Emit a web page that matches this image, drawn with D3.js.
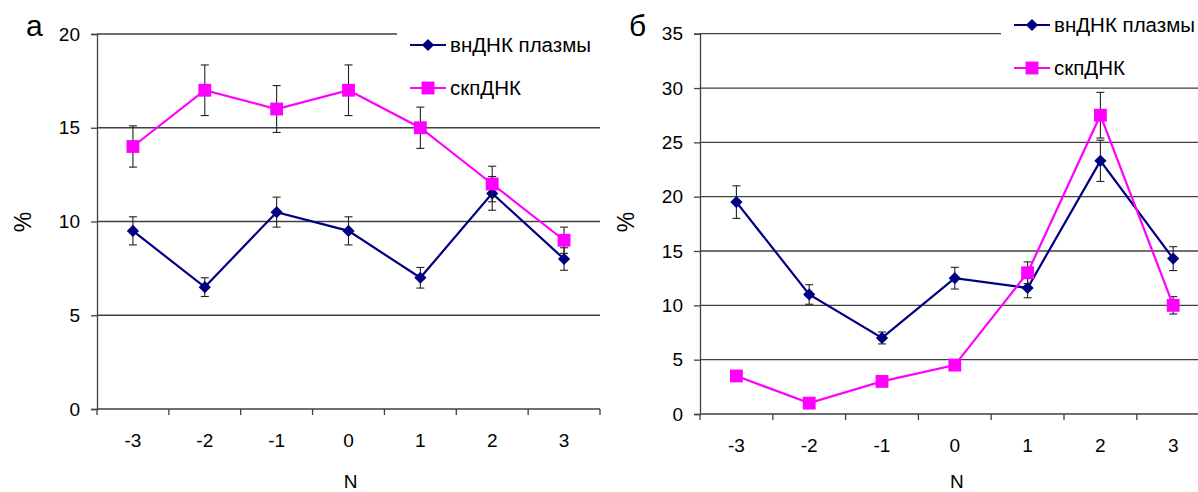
<!DOCTYPE html>
<html lang="ru">
<head>
	<meta charset="UTF-8">
	<title>внДНК / скпДНК</title>
	<script type="text/javascript" src="https://cdn.jsdelivr.net/npm/d3@7/dist/d3.min.js"></script>
	<style>
		body { margin: 0; background: #fff; }
		text { font-family: "Liberation Sans", Arial, sans-serif; fill: #000; }
	</style>
</head>
<body>
<script type="text/javascript">
	// categories
	var positions = ['-3', '-2', '-1', '0', '1', '2', '3'];
	var seriesNames = ['внДНК плазмы', 'скпДНК'];

	// panel а
	var plasmaA = [9.5, 6.5, 10.5, 9.5, 7, 11.5, 8];
	var plasmaErrA = [0.75, 0.5, 0.8, 0.75, 0.55, 0.9, 0.6];
	var ssA = [14, 17, 16, 17, 15, 12, 9];
	var ssErrA = [1.1, 1.35, 1.25, 1.35, 1.1, 0.95, 0.7];
	var ticksA = [0, 5, 10, 15, 20];

	// panel б
	var plasmaB = [19.5, 11, 7, 12.5, 11.6, 23.3, 14.3];
	var plasmaErrB = [1.5, 0.9, 0.55, 1.0, 0.9, 1.9, 1.1];
	var ssB = [3.5, 1, 3, 4.5, 13, 27.5, 10];
	var ssErrB = [0, 0, 0, 0, 1.0, 2.1, 0.8];
	var ticksB = [0, 5, 10, 15, 20, 25, 30, 35];

	var navy = '#000080', magenta = '#ff00ff', gridColor = '#404040';

	var svg = d3.select('body').append('svg')
		.attr('width', 1198)
		.attr('height', 492);

	function drawPanel(opt) {
		var g = svg.append('g');

		var x = d3.scaleBand().domain(positions).range([opt.left, opt.right]);
		var y = d3.scaleLinear().domain([0, opt.max]).range([opt.bottom, opt.top]);

		// gridlines
		g.selectAll('.grid').data(opt.ticks.filter(function (t) { return t > 0; }))
			.enter().append('line')
			.attr('x1', opt.left).attr('x2', opt.right)
			.attr('y1', function (d) { return y(d); }).attr('y2', function (d) { return y(d); })
			.attr('stroke', gridColor).attr('stroke-width', 1.3);

		// y axis
		var yAxis = g.append('g')
			.attr('transform', 'translate(' + opt.left + ',0)')
			.call(d3.axisLeft(y).tickValues(opt.ticks).tickSize(6).tickPadding(11));
		yAxis.selectAll('text').style('font-size', '19px');
		yAxis.select('.domain').attr('stroke', gridColor).attr('stroke-width', 1.3);
		yAxis.selectAll('.tick line').attr('stroke', gridColor).attr('stroke-width', 1.3);

		// x axis, ticks on band edges
		var xAxis = g.append('g')
			.attr('transform', 'translate(0,' + opt.bottom + ')');
		xAxis.append('line')
			.attr('x1', opt.left).attr('x2', opt.right)
			.attr('stroke', gridColor).attr('stroke-width', 1.3);
		var edges = positions.map(function (p) { return x(p); }).concat([opt.right]);
		xAxis.selectAll('.tk').data(edges).enter().append('line')
			.attr('x1', function (d) { return d; }).attr('x2', function (d) { return d; })
			.attr('y1', 0).attr('y2', 6)
			.attr('stroke', gridColor).attr('stroke-width', 1.3);
		xAxis.selectAll('.lbl').data(positions).enter().append('text')
			.attr('x', function (d) { return x(d) + x.bandwidth() / 2; })
			.attr('y', 38)
			.attr('text-anchor', 'middle')
			.style('font-size', '19px')
			.text(function (d) { return d; });

		// axis titles
		g.append('text')
			.attr('x', (opt.left + opt.right) / 2 + 2)
			.attr('y', 488)
			.attr('text-anchor', 'middle')
			.style('font-size', '19px')
			.text('N');
		g.append('text')
			.attr('transform', 'translate(' + (opt.left - 66) + ',' + 222 + ') rotate(-90)')
			.attr('text-anchor', 'middle')
			.style('font-size', '23px')
			.text('%');
		g.append('text')
			.attr('x', opt.left - 71)
			.attr('y', 36)
			.style('font-size', '30px')
			.text(opt.letter);

		var cx = function (d, i) { return x(positions[i]) + x.bandwidth() / 2; };

		function series(vals, errs, color, shape) {
			// error bars
			var eb = g.append('g');
			vals.forEach(function (v, i) {
				if (!errs[i]) return;
				var px = cx(v, i);
				eb.append('line').attr('x1', px).attr('x2', px)
					.attr('y1', y(v + errs[i])).attr('y2', y(v - errs[i]))
					.attr('stroke', '#222').attr('stroke-width', 1.1);
				[v + errs[i], v - errs[i]].forEach(function (e) {
					eb.append('line').attr('x1', px - 4).attr('x2', px + 4)
						.attr('y1', y(e)).attr('y2', y(e))
						.attr('stroke', '#222').attr('stroke-width', 1.1);
				});
			});
			var line = d3.line()
				.x(function (d, i) { return cx(d, i); })
				.y(function (d) { return y(d); });
			g.append('path').datum(vals)
				.attr('d', line)
				.attr('fill', 'none')
				.attr('stroke', color)
				.attr('stroke-width', 2.2);
			g.selectAll(null).data(vals).enter().append('path')
				.attr('transform', function (d, i) { return 'translate(' + cx(d, i) + ',' + y(d) + ')'; })
				.attr('d', shape)
				.attr('fill', color);
		}

		var diamond = d3.symbol().type(d3.symbolDiamond2).size(95)();
		var square = d3.symbol().type(d3.symbolSquare).size(165)();

		series(opt.plasma, opt.plasmaErr, navy, diamond);
		series(opt.ss, opt.ssErr, magenta, square);

		// legend
		var lg = g.append('g');
		lg.append('rect')
			.attr('x', opt.legX).attr('y', opt.legY - 24)
			.attr('width', 1198).attr('height', 82)
			.attr('fill', '#fff');
		var items = [{name: seriesNames[0], color: navy, shape: diamond},
			{name: seriesNames[1], color: magenta, shape: square}];
		items.forEach(function (it, k) {
			var ly = opt.legY + k * 43;
			lg.append('line')
				.attr('x1', opt.legX + 13).attr('x2', opt.legX + 49)
				.attr('y1', ly).attr('y2', ly)
				.attr('stroke', it.color).attr('stroke-width', 2.2);
			lg.append('path')
				.attr('transform', 'translate(' + (opt.legX + 31) + ',' + ly + ')')
				.attr('d', it.shape).attr('fill', it.color);
			lg.append('text')
				.attr('x', opt.legX + 53).attr('y', ly + 7)
				.style('font-size', '20.5px')
				.text(it.name);
		});
	}

	drawPanel({
		letter: 'а', left: 97, right: 600, top: 34, bottom: 409, max: 20,
		ticks: ticksA, plasma: plasmaA, plasmaErr: plasmaErrA, ss: ssA, ssErr: ssErrA,
		legX: 397, legY: 45
	});
	drawPanel({
		letter: 'б', left: 700, right: 1209.6, top: 33.7, bottom: 414, max: 35,
		ticks: ticksB, plasma: plasmaB, plasmaErr: plasmaErrB, ss: ssB, ssErr: ssErrB,
		legX: 1001, legY: 25
	});
</script>
</body>
</html>
